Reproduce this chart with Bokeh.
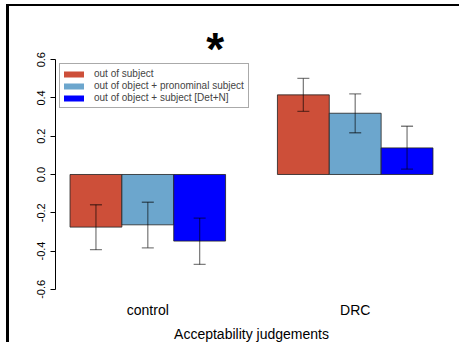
from bokeh.plotting import figure
from bokeh.models import (ColumnDataSource, Whisker, TeeHead, FixedTicker, Legend,
                          LegendItem, Label, Range1d)
from bokeh.embed import file_html
from bokeh.resources import INLINE

# ---- data ----
groups = ["control", "DRC"]
series = ["out of subject",
          "out of object + pronominal subject",
          "out of object + subject [Det+N]"]
colors = ["#CD4F39", "#6CA6CD", "#0000FF"]

control_mean = [-0.275, -0.263, -0.348]
control_low = [-0.393, -0.383, -0.470]
control_high = [-0.158, -0.145, -0.228]

drc_mean = [0.416, 0.320, 0.139]
drc_low = [0.330, 0.218, 0.028]
drc_high = [0.502, 0.421, 0.252]

y_ticks = [-0.6, -0.4, -0.2, 0.0, 0.2, 0.4, 0.6]
y_tick_labels = ["-0.6", "-0.4", "-0.2", "0.0", "0.2", "0.4", "0.6"]
x_title = "Acceptability judgements"
star_text = "*"
star_pos = (3.8, 0.655)   # significance marker position (data units, text baseline)

FONT = "Liberation Sans"
NAN = float("nan")

# ---- build positions (R barplot style: bars width 1, one gap between groups) ----
means = [control_mean, drc_mean]
lows = [control_low, drc_low]
highs = [control_high, drc_high]
n = len(series)
xs, tops, lo, hi, cols, ser = [], [], [], [], [], []
group_centers = []
for g in range(len(groups)):
    start = 1 + g * (n + 1)
    group_centers.append(start + n / 2)
    for i in range(n):
        xs.append(start + i + 0.5)
        tops.append(means[g][i])
        lo.append(lows[g][i])
        hi.append(highs[g][i])
        cols.append(colors[i])
        ser.append(series[i])

src = ColumnDataSource(dict(x=xs, top=tops, lower=lo, upper=hi, color=cols, series=ser))

p = figure(frame_width=392, frame_height=273,
           min_border_left=46, min_border_right=15,
           min_border_top=19, min_border_bottom=40,
           x_range=Range1d(0.72, 8.28), y_range=Range1d(-0.648, 0.7785),
           output_backend="svg", toolbar_location=None,
           background_fill_color="white", border_fill_color="white",
           styles={"margin-left": "9px", "margin-top": "6px",
                   "box-shadow": "-3px -2px 0px 0px black"})
p.outline_line_color = None
p.grid.visible = False

p.vbar(x="x", width=1.0, top="top", bottom=0, source=src,
       fill_color="color", line_color="#222222", line_alpha=0.8, line_width=1)

whisk = Whisker(base="x", lower="lower", upper="upper", source=src, level="overlay",
                line_color="black", line_alpha=0.5, line_width=1.3,
                upper_head=TeeHead(size=12, line_color="black", line_alpha=0.5, line_width=1.3),
                lower_head=TeeHead(size=12, line_color="black", line_alpha=0.5, line_width=1.3))
p.add_layout(whisk)

# y axis
ya = p.yaxis[0]
ya.ticker = FixedTicker(ticks=y_ticks)
ya.major_label_overrides = {t: s for t, s in zip(y_ticks, y_tick_labels)}
ya.bounds = (y_ticks[0], y_ticks[-1])
ya.major_tick_out = 5
ya.major_tick_in = 0
ya.minor_tick_line_color = None
ya.axis_line_color = "black"
ya.major_tick_line_color = "black"
ya.major_label_orientation = "vertical"
ya.major_label_standoff = 5
ya.major_label_text_font = FONT
ya.major_label_text_font_size = "11px"
ya.major_label_text_color = "black"

# x axis
xa = p.xaxis[0]
xa.ticker = FixedTicker(ticks=group_centers)
xa.major_label_overrides = {c: g for c, g in zip(group_centers, groups)}
xa.axis_line_color = None
xa.major_tick_line_color = None
xa.minor_tick_line_color = None
xa.major_tick_out = 0
xa.major_label_standoff = 3
xa.major_label_text_font = FONT
xa.major_label_text_font_size = "14px"
xa.major_label_text_color = "black"
xa.axis_label = x_title
xa.axis_label_text_font = FONT
xa.axis_label_text_font_size = "14px"
xa.axis_label_text_font_style = "normal"
xa.axis_label_text_color = "black"
xa.axis_label_standoff = 5

# legend with thick rounded line swatches
items = []
for s, c in zip(series, colors):
    r = p.line(x=[NAN], y=[NAN], line_color=c, line_width=6, line_cap="round")
    items.append(LegendItem(label=s, renderers=[r]))
leg = Legend(items=items, location=(4, 190), padding=4, spacing=1,
             glyph_width=20, glyph_height=10, label_height=10, label_standoff=10,
             label_text_font=FONT, label_text_font_size="10px",
             border_line_color="#555555", border_line_width=1,
             background_fill_color="white", background_fill_alpha=1.0,
             margin=0)
p.add_layout(leg)

star = Label(x=star_pos[0], y=star_pos[1], text=star_text, level="overlay",
             text_font=FONT, text_font_size="46px", text_font_style="bold",
             text_align="center", text_baseline="alphabetic", text_color="black")
p.add_layout(star)

open("out.html", "w").write(file_html(p, INLINE))
